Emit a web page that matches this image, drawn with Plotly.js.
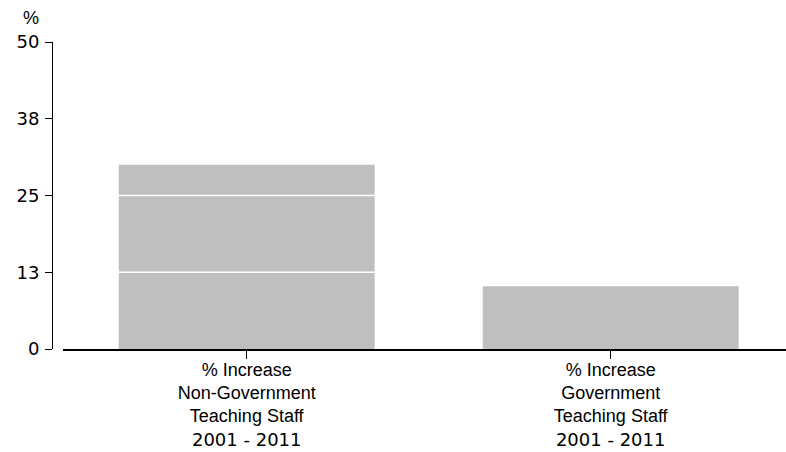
<!DOCTYPE html>
<html>
<head>
<meta charset="utf-8">
<script src="https://cdn.plot.ly/plotly-3.0.1.min.js"></script>
<style>
  html, body { margin: 0; padding: 0; background: #ffffff; }
  #chart { width: 786px; height: 452px; }
</style>
</head>
<body>
<div id="chart"></div>
<script>
// Percentage increase in teaching staff, 2001 - 2011
const categories = [
  "% Increase<br>Non-Government<br>Teaching Staff<br>2001 - 2011",
  "% Increase<br>Government<br>Teaching Staff<br>2001 - 2011"
];
const increasePct = [30.0, 10.2];

const yTickVals = [0, 12.5, 25, 37.5, 50];
const yTickText = ["0", "13", "25", "38", "50"];

const FONT = "'Liberation Sans', Arial, sans-serif";
const NUM_FONT = "'DejaVu Sans', sans-serif";

// Year lines use the wider numeral face
const catTickText = categories.map(c => c.split("<br>").map(line =>
  /^\d/.test(line) ? "<span style=\"font-family:" + NUM_FONT.replace(/'/g, "") + "\">" + line + "</span>" : line
).join("<br>"));

const trace = {
  type: "bar",
  x: categories,
  y: increasePct,
  width: 0.703,
  marker: { color: "rgb(191,191,191)", line: { width: 0 } },
  hoverinfo: "skip"
};

// white grid lines drawn over the bars
const gridShapes = yTickVals.filter(v => v > 0 && v < 50).map(v => ({
  type: "line",
  xref: "x domain", x0: 0, x1: 1,
  yref: "y", y0: v, y1: v,
  line: { color: "#ffffff", width: 1.3 },
  layer: "above"
}));

const layout = {
  width: 786,
  height: 452,
  margin: { l: 52, r: 0, t: 42, b: 103, pad: 0 },
  paper_bgcolor: "#ffffff",
  plot_bgcolor: "#ffffff",
  font: { family: FONT, size: 18, color: "#000000" },
  showlegend: false,
  xaxis: {
    domain: [0.015, 1],
    range: [-0.5047, 1.4816],
    tickmode: "array",
    tickvals: categories,
    ticktext: catTickText,
    showline: true,
    linecolor: "#000000",
    linewidth: 2,
    ticks: "outside",
    ticklen: 8,
    tickwidth: 1,
    tickcolor: "#000000",
    ticklabelstandoff: -5,
    showgrid: false,
    zeroline: false,
    fixedrange: true,
    tickfont: { family: FONT, size: 18, color: "#000000" }
  },
  yaxis: {
    anchor: "free",
    position: 0,
    range: [0, 50],
    tickmode: "array",
    tickvals: yTickVals,
    ticktext: yTickText,
    showline: true,
    linecolor: "#000000",
    linewidth: 1.3,
    ticks: "outside",
    ticklen: 7,
    tickwidth: 1,
    tickcolor: "#000000",
    ticklabelstandoff: 2,
    showgrid: false,
    zeroline: false,
    fixedrange: true,
    tickfont: { family: NUM_FONT, size: 18, color: "#000000" }
  },
  shapes: gridShapes,
  annotations: [{
    text: "%",
    xref: "paper", yref: "paper",
    x: -0.029, y: 1,
    xanchor: "center", yanchor: "bottom",
    yshift: 12,
    showarrow: false,
    font: { family: FONT, size: 18, color: "#000000" }
  }]
};

Plotly.newPlot("chart", [trace], layout, { staticPlot: true, displayModeBar: false });
</script>
</body>
</html>
